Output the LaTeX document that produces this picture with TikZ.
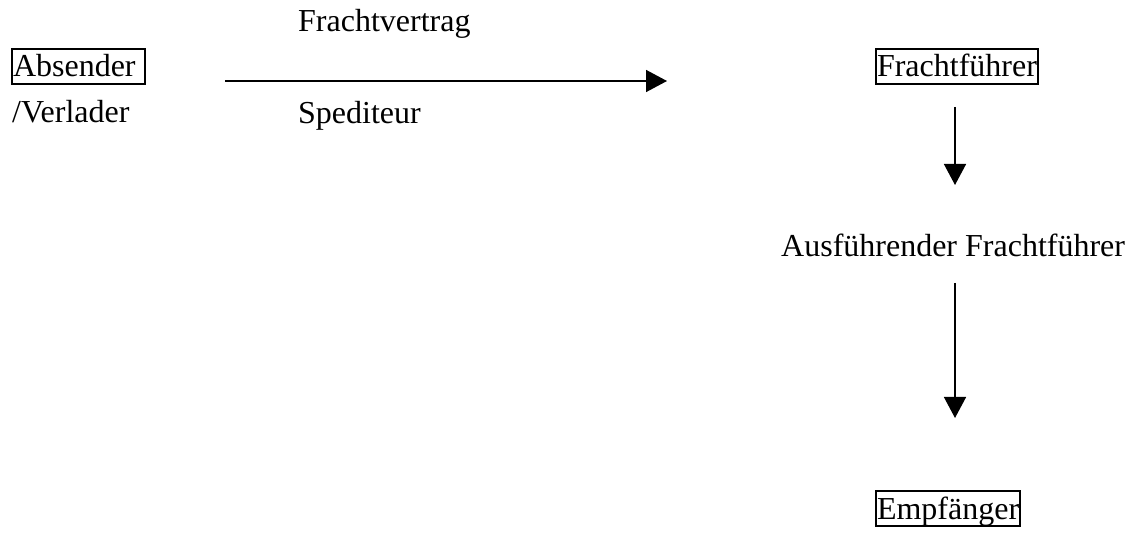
\documentclass[tikz,border=0pt]{standalone}
\usepackage{fontspec}
\setmainfont{Liberation Serif}
\usetikzlibrary{arrows.meta}
\begin{document}
\begin{tikzpicture}[x=1pt,y=-1pt,
  txt/.style={font=\fontsize{32}{38}\selectfont, inner sep=0pt, anchor=base west},
  boxed/.style={txt, draw, line width=2pt, inner xsep=1pt, inner ysep=0pt, text height=28pt, text depth=7pt},
  flow/.style={line width=1.5pt, -{Triangle[length=21pt,width=22pt]}}]
\useasboundingbox (0,0) rectangle (1128,534);
\node[boxed] (abs) at (11,77) {Absender\kern8pt};
\node[txt] (verl) at (12,123) {/Verlader};
\node[txt] (fv) at (298,32) {Frachtvertrag};
\node[txt] (sped) at (298,124) {Spediteur};
\node[boxed] (ff) at (875,77) {Frachtführer};
\node[txt] (aff) at (781,257) {Ausführender Frachtführer};
\node[boxed] (emp) at (875,519) {Empfänger};
\coordinate (h1) at (225,81);
\coordinate (h2) at (667,81);
\coordinate (v1) at (955,107);
\coordinate (v2) at (955,185);
\coordinate (v3) at (955,283);
\coordinate (v4) at (955,418);
\draw[flow] (h1) -- (h2);
\draw[flow] (v1) -- (v2);
\draw[flow] (v3) -- (v4);
\end{tikzpicture}
\end{document}
